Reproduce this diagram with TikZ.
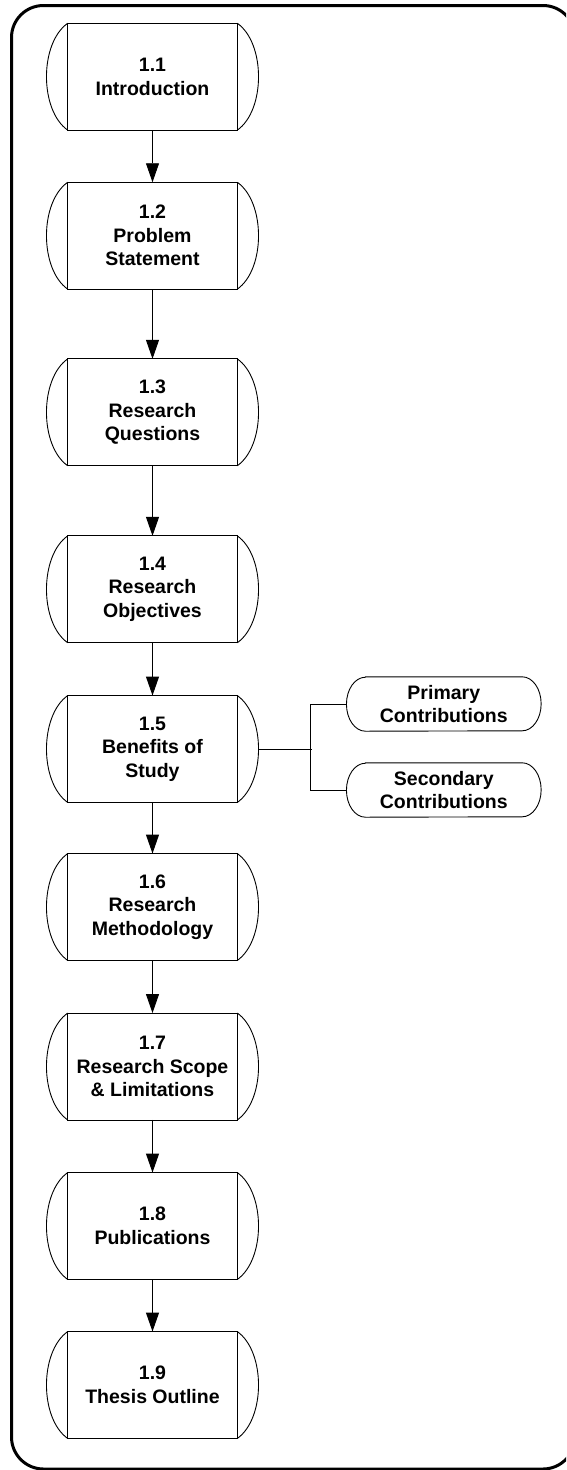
\documentclass[tikz,border=0pt]{standalone}
\usepackage{fontspec}
\setmainfont{Liberation Sans}
\usetikzlibrary{arrows.meta}
\begin{document}
\begin{tikzpicture}[x=1pt,y=1pt,
  every node/.style={font=\fontsize{19.5}{23.5}\selectfont\bfseries, align=center, inner sep=0pt},
  chapbox/.style={minimum width=211.6, minimum height=106.5},
  outcome/.style={minimum width=194.3, minimum height=54},
  thinline/.style={line width=0.9pt, draw=black},
  flow/.style={thinline, -{Triangle[length=19pt,width=13pt]}}]
\useasboundingbox (0,0) rectangle (566,-1470);
\clip (0,0) rectangle (566,-1470);

% outer frame
\draw[line width=3pt, rounded corners=32pt] (11.5,-5.5) rectangle (575,-1469);

% chapter sections
\node[chapbox] (b1) at (152.5,-76.7)  {1.1\\Introduction};
\node[chapbox] (b2) at (152.5,-235.7) {1.2\\Problem\\Statement};
\node[chapbox] (b3) at (152.5,-412.3) {1.3\\Research\\Questions};
\node[chapbox] (b4) at (152.5,-589.3) {1.4\\Research\\Objectives};
\node[chapbox] (b5) at (152.5,-749)   {1.5\\Benefits of\\Study};
\node[chapbox] (b6) at (152.5,-907)   {1.6\\Research\\Methodology};
\node[chapbox] (b7) at (152.5,-1066.5){1.7\\Research Scope\\\& Limitations};
\node[chapbox] (b8) at (152.5,-1226)  {1.8\\Publications};
\node[chapbox] (b9) at (152.5,-1385)  {1.9\\Thesis Outline};

% outlines: inner rectangle with curved sides
\foreach \n in {b1,b2,b3,b4,b5,b6,b7,b8,b9}{
  \draw[thinline] ([xshift=21.2]\n.north west) rectangle ([xshift=-21.2]\n.south east);
  \draw[thinline] ([xshift=21.2]\n.north west) .. controls +(-28.3,-20) and +(-28.3,20) .. ([xshift=21.2]\n.south west);
  \draw[thinline] ([xshift=-21.2]\n.north east) .. controls +(28.3,-20) and +(28.3,20) .. ([xshift=-21.2]\n.south east);
}

% contributions
\node[outcome] (p1) at (443.8,-704) {Primary\\Contributions};
\node[outcome] (p2) at (443.8,-790) {Secondary\\Contributions};
\foreach \n in {p1,p2}{
  \draw[thinline] ([xshift=19]\n.north west) -- ([xshift=-19]\n.north east)
    arc[start angle=90, end angle=-90, x radius=19, y radius=27]
    -- ([xshift=19]\n.south west)
    arc[start angle=270, end angle=90, x radius=19, y radius=27] -- cycle;
}

% flow arrows
\foreach \a/\b in {b1/b2,b2/b3,b3/b4,b4/b5,b5/b6,b6/b7,b7/b8,b8/b9}{
  \draw[flow] (\a.south) -- (\b.north);
}

% branch to contributions
\coordinate (j) at (310,-749);
\draw[thinline] (b5.east) -- ([xshift=1.7]j);
\draw[thinline] (p1.west) -- (p1.west -| j) -- (p2.west -| j) -- (p2.west);
\end{tikzpicture}
\end{document}
